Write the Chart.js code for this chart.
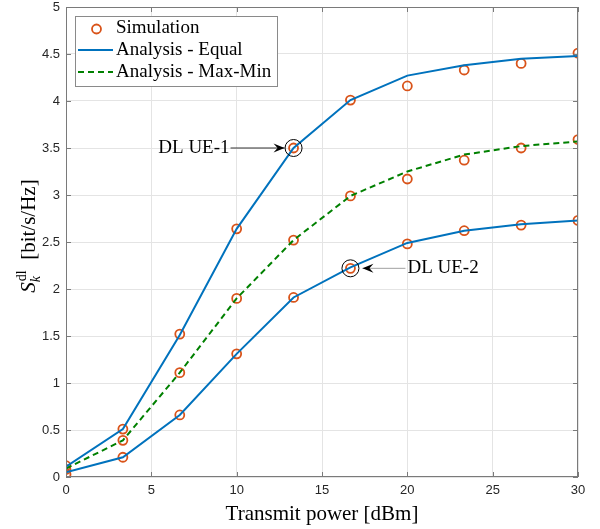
<!DOCTYPE html>
<html>
<head>
<meta charset="utf-8">
<script src="https://cdn.jsdelivr.net/npm/chart.js@4.4.0/dist/chart.umd.min.js"></script>
<style>
  html, body { margin: 0; padding: 0; background: #fff; }
</style>
</head>
<body>
<canvas id="chart" width="600" height="529"></canvas>
<script>
// transmit power [dBm]
var xPower = [0, 3.333, 6.667, 10, 13.333, 16.667, 20, 23.333, 26.667, 30];
// analysis curves
var equalUE1 = [0.11, 0.51, 1.51, 2.64, 3.50, 4.01, 4.27, 4.38, 4.45, 4.48];
var equalUE2 = [0.05, 0.21, 0.66, 1.31, 1.91, 2.23, 2.49, 2.62, 2.69, 2.73];
var maxMin   = [0.09, 0.39, 1.11, 1.90, 2.52, 2.99, 3.25, 3.43, 3.52, 3.57];
// simulation points
var simUE1    = [0.12, 0.51, 1.52, 2.64, 3.50, 4.01, 4.16, 4.33, 4.40, 4.51];
var simUE2    = [0.03, 0.21, 0.66, 1.31, 1.91, 2.22, 2.48, 2.62, 2.68, 2.73];
var simMaxMin = [0.08, 0.39, 1.11, 1.90, 2.52, 2.99, 3.17, 3.37, 3.50, 3.59];

var xTicks = [0, 5, 10, 15, 20, 25, 30];
var yTicks = [0, 0.5, 1, 1.5, 2, 2.5, 3, 3.5, 4, 4.5, 5];

var legendLabels = ['Simulation', 'Analysis - Equal', 'Analysis - Max-Min'];
// annotated points: [x, y, label]
var markUE1 = [13.333, 3.50, 'DL UE-1'];
var markUE2 = [16.667, 2.22, 'DL UE-2'];

var BLUE = '#0072BD', ORANGE = '#D95319', GREEN = '#008000';
var SERIF = '"Liberation Serif", "DejaVu Serif", serif';

function pts(ys) {
    return xPower.map(function (x, i) { return { x: x, y: ys[i] }; });
}

// arrow with a notched head, like matlab's annotation arrows
function arrow(ctx, x1, x2, y, lineColor) {
    ctx.save();
    ctx.strokeStyle = lineColor;
    ctx.lineWidth = 1;
    ctx.beginPath();
    ctx.moveTo(x1, y);
    ctx.lineTo(x2, y);
    ctx.stroke();
    var d = x2 > x1 ? 1 : -1;
    ctx.fillStyle = '#000';
    ctx.beginPath();
    ctx.moveTo(x2, y);
    ctx.lineTo(x2 - d * 11, y - 4.5);
    ctx.lineTo(x2 - d * 7, y);
    ctx.lineTo(x2 - d * 11, y + 4.5);
    ctx.closePath();
    ctx.fill();
    ctx.restore();
}

var decor = {
    id: 'decor',
    afterDraw: function (chart) {
        var ctx = chart.ctx, a = chart.chartArea;
        var xs = chart.scales.x, ys = chart.scales.y;
        ctx.save();

        // axes box + inward ticks
        ctx.strokeStyle = '#7a7a7a';
        ctx.lineWidth = 1;
        ctx.strokeRect(Math.round(a.left) + 0.5, Math.round(a.top) + 0.5,
            Math.round(a.right - a.left) - 1, Math.round(a.bottom - a.top) - 1);
        ctx.beginPath();
        xTicks.forEach(function (v) {
            var px = Math.round(xs.getPixelForValue(v)) + 0.5;
            ctx.moveTo(px, a.bottom); ctx.lineTo(px, a.bottom - 5);
            ctx.moveTo(px, a.top); ctx.lineTo(px, a.top + 5);
        });
        yTicks.forEach(function (v) {
            var py = Math.round(ys.getPixelForValue(v)) + 0.5;
            ctx.moveTo(a.left, py); ctx.lineTo(a.left + 5, py);
            ctx.moveTo(a.right, py); ctx.lineTo(a.right - 5, py);
        });
        ctx.stroke();

        // annotations
        ctx.font = '19px ' + SERIF;
        ctx.fillStyle = '#000';
        ctx.textBaseline = 'middle';
        var p1x = xs.getPixelForValue(markUE1[0]), p1y = ys.getPixelForValue(markUE1[1]);
        var p2x = xs.getPixelForValue(markUE2[0]), p2y = ys.getPixelForValue(markUE2[1]);
        ctx.strokeStyle = '#000';
        ctx.lineWidth = 1;
        ctx.beginPath(); ctx.arc(p1x, p1y, 8.5, 0, Math.PI * 2); ctx.stroke();
        ctx.beginPath(); ctx.arc(p2x, p2y, 8.5, 0, Math.PI * 2); ctx.stroke();
        arrow(ctx, p1x - 63, p1x - 9, p1y, '#333');
        ctx.textAlign = 'right';
        ctx.fillText(markUE1[2], p1x - 64, p1y);
        arrow(ctx, p2x + 55, p2x + 12, p2y, '#a0a0a0');
        ctx.textAlign = 'left';
        ctx.fillText(markUE2[2], p2x + 57, p2y);

        // legend
        ctx.fillStyle = '#fff';
        ctx.fillRect(75.5, 16.5, 202, 70);
        ctx.strokeStyle = '#8a8a8a';
        ctx.strokeRect(75.5, 16.5, 202, 70);
        var rows = [28, 50, 72];
        ctx.strokeStyle = ORANGE;
        ctx.lineWidth = 1.8;
        ctx.beginPath(); ctx.arc(96.5, rows[0] + 1, 4.5, 0, Math.PI * 2); ctx.stroke();
        ctx.strokeStyle = BLUE;
        ctx.lineWidth = 2;
        ctx.beginPath(); ctx.moveTo(78, rows[1]); ctx.lineTo(113, rows[1]); ctx.stroke();
        ctx.strokeStyle = GREEN;
        ctx.setLineDash([6, 4]);
        ctx.beginPath(); ctx.moveTo(78, rows[2]); ctx.lineTo(113, rows[2]); ctx.stroke();
        ctx.setLineDash([]);
        ctx.fillStyle = '#000';
        ctx.textAlign = 'left';
        legendLabels.forEach(function (t, i) { ctx.fillText(t, 116, rows[i]); });

        // x title
        ctx.font = '21px ' + SERIF;
        ctx.textAlign = 'center';
        ctx.textBaseline = 'alphabetic';
        ctx.fillText('Transmit power [dBm]', (a.left + a.right) / 2, 520);

        // y title with sub/superscript
        ctx.translate(35, 236);
        ctx.rotate(-Math.PI / 2);
        ctx.textAlign = 'left';
        var fMain = '21px ' + SERIF, fItal = 'italic 21px ' + SERIF;
        var fSmall = '14px ' + SERIF, fSmallIt = 'italic 14px ' + SERIF;
        var rest = '  [bit/s/Hz]';
        ctx.font = fItal; var wS = ctx.measureText('S').width;
        ctx.font = fSmall; var wSup = ctx.measureText('dl').width;
        ctx.font = fMain; var wRest = ctx.measureText(rest).width;
        var total = wS + wSup + 1 + wRest;
        var x0 = -total / 2;
        ctx.font = fItal; ctx.fillText('S', x0, 0);
        ctx.font = fSmall; ctx.fillText('dl', x0 + wS + 1, -9);
        ctx.font = fSmallIt; ctx.fillText('k', x0 + wS, 5);
        ctx.font = fMain; ctx.fillText(rest, x0 + wS + wSup + 1, 0);

        ctx.restore();
    }
};

var lineBase = { showLine: true, pointRadius: 0, borderWidth: 2, tension: 0, fill: false, order: 1 };

new Chart(document.getElementById('chart'), {
    type: 'scatter',
    data: {
        datasets: [
            Object.assign({ label: 'Analysis - Equal', data: pts(equalUE1), borderColor: BLUE }, lineBase),
            Object.assign({ label: 'Analysis - Equal (UE-2)', data: pts(equalUE2), borderColor: BLUE }, lineBase),
            Object.assign({ label: 'Analysis - Max-Min', data: pts(maxMin), borderColor: GREEN, borderDash: [6, 4] }, lineBase),
            {
                label: 'Simulation',
                data: pts(simUE1).concat(pts(simUE2), pts(simMaxMin)),
                showLine: false,
                pointStyle: 'circle',
                pointRadius: 4.5,
                pointBorderWidth: 1.8,
                borderColor: ORANGE,
                backgroundColor: 'rgba(0,0,0,0)',
                order: 2
            }
        ]
    },
    options: {
        responsive: false,
        animation: false,
        layout: { padding: { top: 7, right: 22, left: 0, bottom: 0 } },
        plugins: { legend: { display: false }, tooltip: { enabled: false } },
        scales: {
            x: {
                type: 'linear',
                min: 0, max: 30,
                afterFit: function (s) { s.height = 52; s.paddingLeft = 0; s.paddingRight = 0; },
                afterBuildTicks: function (s) { s.ticks = xTicks.map(function (v) { return { value: v }; }); },
                grid: { color: '#e4e4e4', drawTicks: false },
                border: { display: false },
                ticks: { padding: 6, color: '#262626', font: { family: '"Liberation Sans", Arial, sans-serif', size: 13 },
                         callback: function (v) { return String(v); } }
            },
            y: {
                min: 0, max: 5,
                afterFit: function (s) { s.width = 66; s.paddingTop = 0; s.paddingBottom = 0; },
                afterBuildTicks: function (s) { s.ticks = yTicks.map(function (v) { return { value: v }; }); },
                grid: { color: '#e4e4e4', drawTicks: false },
                border: { display: false },
                ticks: { padding: 6, color: '#262626', font: { family: '"Liberation Sans", Arial, sans-serif', size: 13 },
                         callback: function (v) { return String(v); } }
            }
        }
    },
    plugins: [decor]
});
</script>
</body>
</html>
